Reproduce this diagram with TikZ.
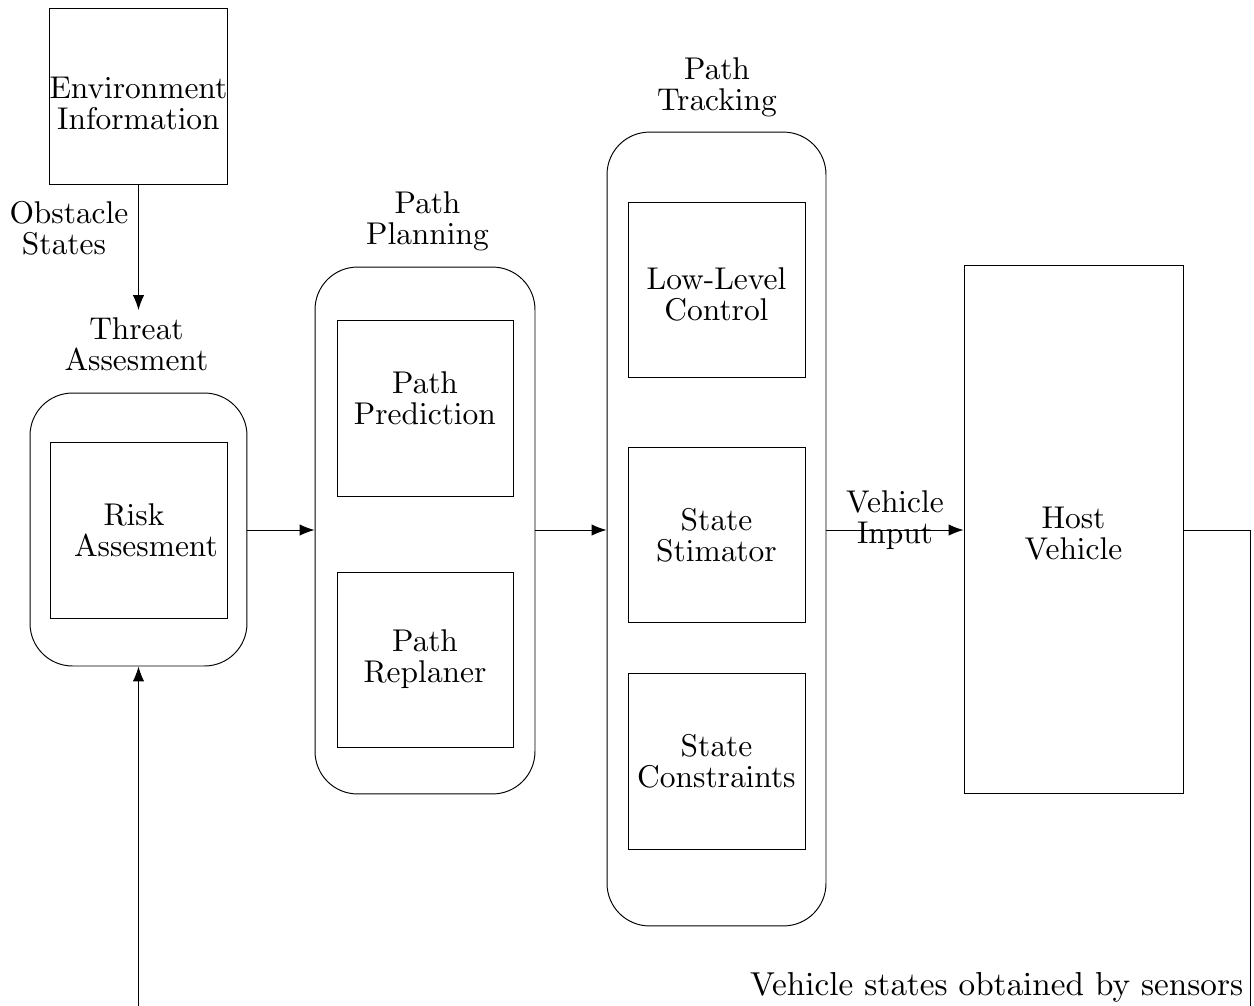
\documentclass[tikz,border=0pt]{standalone}
\usetikzlibrary{arrows.meta}
% Computer Modern 10pt design, enlarged
\font\bigcm=cmr10 at 17.9pt
\font\biggercm=cmr10 at 18.9pt
\newcommand\diagfont{\bigcm\baselineskip=17.6pt\relax}
\newcommand\notefont{\biggercm\baselineskip=18pt\relax}
\begin{document}
\begin{tikzpicture}[x=0.02cm,y=-0.02cm,
  every node/.style={inner sep=0pt},
  txt/.style={font=\diagfont, align=center},
  box/.style={draw, line width=0.55pt, minimum width=3.54cm, minimum height=3.52cm},
  group/.style={draw, line width=0.55pt, rounded corners=0.85cm},
  flow/.style={line width=0.55pt, -{Latex[length=0.3cm,width=0.23cm]}},
  wire/.style={line width=0.55pt}]
\useasboundingbox (0,0) rectangle (1254,1005);

% environment block and obstacle states
\node[box, minimum width=3.56cm] (env) at (138.5,96) {};
\node[txt] (envtxt) at (138.5,103) {Environment\\Information};
\node[txt] (obs) at (69,228) {Obstacle\\States\rule{0.2cm}{0pt}};

% threat assessment
\node[txt] (threatlbl) at (136.5,344) {Threat\\Assesment};
\node[group, minimum width=4.34cm, minimum height=5.46cm] (threat) at (138.5,529.5) {};
\node[box] (risk) at (138.5,530) {};
\node[txt] (risktxt) at (146,530) {Risk\rule{0.48cm}{0pt}\\Assesment};

% path planning
\node[txt] (planlbl) at (427.5,221) {Path\\Planning};
\node[group, minimum width=4.4cm, minimum height=10.54cm] (plan) at (425,530.5) {};
\node[box, minimum width=3.52cm] (pred) at (425,408) {};
\node[txt] (predtxt) at (425,398) {Path\\Prediction};
\node[box, minimum width=3.52cm, minimum height=3.5cm] (repl) at (425,659.5) {};
\node[txt] (repltxt) at (425,659.5) {Path\\Replaner};

% path tracking
\node[txt] (tracklbl) at (717,87) {Path\\Tracking};
\node[group, minimum width=4.38cm, minimum height=15.88cm] (track) at (716.5,529) {};
\node[box, minimum height=3.5cm] (low) at (716.5,289.5) {};
\node[txt] (lowtxt) at (716.5,294) {Low-Level\\Control};
\node[box, minimum height=3.5cm] (stim) at (716.5,534.5) {};
\node[txt] (stimtxt) at (716.5,535) {State\\Stimator};
\node[box] (cons) at (716.5,761) {};
\node[txt] (constxt) at (716.5,761.5) {State\\Constraints};

% vehicle
\node[draw, line width=0.55pt, minimum width=4.38cm, minimum height=10.58cm] (host) at (1073.5,529.5) {};
\node[txt] (hosttxt) at (1073.5,533.5) {Host\\Vehicle};

% connections
\draw[flow] (env.south) -- (env.south |- 0,310) coordinate (envend);
\draw[flow] (threat.east |- 0,530) -- (plan.west |- 0,530);
\draw[flow] (plan.east |- 0,530) -- (track.west |- 0,530);
\draw[flow] (track.east |- 0,530) -- node[txt, yshift=0.19cm] (vin) {Vehicle\\Input} (host.west |- 0,530);

% feedback loop
\coordinate (fbR) at (1250,530);
\coordinate (fbB) at (fbR |- 0,1006);
\coordinate (fbL) at (threat.south |- 0,1006);
\draw[wire] (host.east |- fbR) -- (fbR) -- (fbB);
\draw[flow] (fbL) -- (threat.south);
\node[font=\notefont, anchor=base east] (sens) at (1244,995) {Vehicle states obtained by sensors};
\end{tikzpicture}
\end{document}
